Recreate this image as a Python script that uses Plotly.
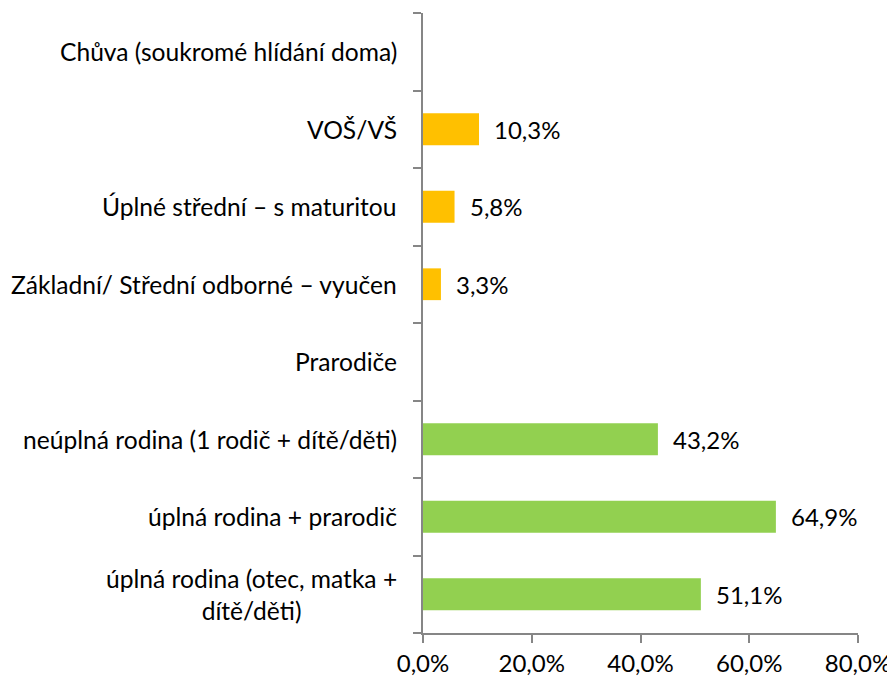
import plotly.graph_objects as go

categories = [
    "úplná rodina (otec, matka +<br>dítě/děti)",
    "úplná rodina + prarodič",
    "neúplná rodina (1 rodič + dítě/děti)",
    "Prarodiče",
    "Základní/ Střední odborné – vyučen",
    "Úplné střední – s maturitou",
    "VOŠ/VŠ",
    "Chůva (soukromé hlídání doma)",
]
values = [51.1, 64.9, 43.2, None, 3.3, 5.8, 10.3, None]
bar_colors = ["#92D050", "#92D050", "#92D050", "#92D050",
              "#FFC000", "#FFC000", "#FFC000", "#FFC000"]
x_ticks = [0, 20, 40, 60, 80]
x_tick_labels = ["0,0%", "20,0%", "40,0%", "60,0%", "80,0%"]

FONT = "Lato"
FS = 24
FS_CAT = 24.6
AXIS_COL = "#868686"

pos = list(range(len(categories)))

fig = go.Figure()
fig.add_trace(go.Bar(
    x=values, y=pos, orientation="h",
    marker=dict(color=bar_colors, line=dict(width=0)),
    width=0.41, hoverinfo="skip",
))

annotations = []
for p, v in zip(pos, values):
    if v is not None:
        annotations.append(dict(
            x=v, y=p, xref="x", yref="y", text=f"{v:.1f}".replace(".", ",") + "%",
            showarrow=False, xanchor="left", yanchor="middle", xshift=13,
            font=dict(family=FONT, size=FS, color="#000000"),
        ))
for p, c in zip(pos, categories):
    annotations.append(dict(
        x=0, y=p, xref="paper", yref="y", text=c, showarrow=False,
        xanchor="right", yanchor="middle", xshift=-24, align="center",
        font=dict(family=FONT, size=FS_CAT, color="#000000"),
    ))

fig.update_layout(
    template="none",
    width=887, height=673,
    margin=dict(l=415, r=37, t=5, b=48, pad=0),
    paper_bgcolor="white", plot_bgcolor="white",
    showlegend=False,
    font=dict(family=FONT, size=FS, color="#000000"),
    annotations=annotations,
)
fig.update_xaxes(
    range=[0, 80], tickvals=x_ticks, ticktext=x_tick_labels, automargin=False,
    showgrid=False, zeroline=False, showline=True, linecolor=AXIS_COL, linewidth=2,
    ticks="outside", ticklen=8, tickwidth=2, tickcolor=AXIS_COL,
    tickfont=dict(family=FONT, size=FS, color="#000000"),
)
fig.update_yaxes(
    range=[-0.5, 7.5], tickvals=[i - 0.5 for i in range(len(categories) + 1)],
    showticklabels=False, automargin=False,
    showgrid=False, zeroline=False, showline=True, linecolor=AXIS_COL, linewidth=2,
    ticks="outside", ticklen=8, tickwidth=2, tickcolor=AXIS_COL,
)

fig.write_html("out.html")
